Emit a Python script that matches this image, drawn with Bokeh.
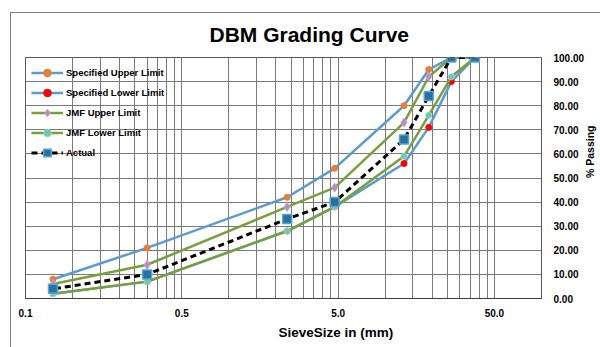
from math import pi
from bokeh.plotting import figure
from bokeh.models import (Range1d, FixedTicker, PrintfTickFormatter, Legend, LegendItem, Title)
from bokeh.embed import file_html
from bokeh.resources import INLINE

# ---- data ----
sieve_mm = [37.5, 26.5, 19.0, 13.2, 4.75, 2.36, 0.3, 0.075]
spec_upper = [100, 100, 95, 80, 54, 42, 21, 8]
spec_lower = [100, 90, 71, 56, 38, 28, 7, 2]
jmf_upper = [100, 100, 92, 73, 46, 38, 14, 6]
jmf_lower = [100, 92, 76, 59, 38, 28, 7, 2]
actual = [100, 100, 84, 66, 40, 33, 10, 4]

x_ticks = [0.05, 0.5, 5.0, 50.0]
x_tick_labels = ["0.1", "0.5", "5.0", "50.0"]
y_ticks = [0, 10, 20, 30, 40, 50, 60, 70, 80, 90, 100]

FONT = "Liberation Sans"

p = figure(frame_width=516, frame_height=241, x_axis_type="log",
           x_range=Range1d(0.05, 100), y_range=Range1d(0, 100),
           y_axis_location="right", output_backend="svg", toolbar_location=None,
           min_border_left=14, min_border_right=59, min_border_top=44, min_border_bottom=49)
p.styles = {"margin-left": "10px", "margin-top": "12px",
            "border-left": "1px solid #7f7f7f", "border-top": "1px solid #7f7f7f"}

p.title.text = "DBM Grading Curve"
p.title.align = "left"
p.title.vertical_align = "top"
p.title.offset = 184
p.title.standoff = 19
p.title.text_font = FONT
p.title.text_font_size = "21px"
p.title.text_font_style = "bold"
p.title.text_color = "#000000"

minor = [d * k for d in x_ticks for k in range(1, 11) if d * k <= 100]
p.xaxis.ticker = FixedTicker(ticks=x_ticks, minor_ticks=minor)
p.xaxis.major_label_overrides = {t: l for t, l in zip(x_ticks, x_tick_labels)}
p.yaxis.ticker = FixedTicker(ticks=y_ticks)
p.yaxis.formatter = PrintfTickFormatter(format="%.2f")

for ax in (p.xaxis, p.yaxis):
    ax.major_label_text_font = FONT
    ax.major_label_text_font_size = "10px"
    ax.major_label_text_font_style = "bold"
    ax.major_label_text_color = "#000000"
    ax.major_tick_line_color = None
    ax.minor_tick_line_color = None
    ax.major_tick_out = 0
    ax.minor_tick_out = 0
p.xaxis.axis_line_color = "#404040"
p.yaxis.axis_line_color = None
p.xaxis.major_label_standoff = 10
p.yaxis.major_label_standoff = 12

yax = p.yaxis[0]
yax.axis_label = "% Passing"
yax.axis_label_text_font = FONT
yax.axis_label_text_font_size = "10.5px"
yax.axis_label_text_font_style = "bold"
yax.axis_label_text_color = "#000000"
yax.axis_label_text_align = "center"
yax.axis_label_standoff = 3
if "axis_label_orientation" in yax.properties():
    yax.axis_label_orientation = pi / 2

xlab = Title(text="SieveSize in (mm)", align="left", offset=253, standoff=7,
             text_font=FONT, text_font_size="13.5px", text_font_style="bold",
             text_color="#000000")
p.add_layout(xlab, "below")

grid_c = "#7a7a7a"
p.xgrid.grid_line_color = grid_c
p.xgrid.minor_grid_line_color = grid_c
p.ygrid.grid_line_color = grid_c
p.outline_line_color = "#595959"

blue = "#5B9BD5"
green = "#77A03A"

l1 = p.line(sieve_mm, spec_upper, line_color=blue, line_width=2.5)
m1 = p.scatter(sieve_mm, spec_upper, marker="circle", size=6, fill_color="#ED7D31", line_color="#ED7D31")
l2 = p.line(sieve_mm, spec_lower, line_color=blue, line_width=2.5)
m2 = p.scatter(sieve_mm, spec_lower, marker="circle", size=6, fill_color="#FF0000", line_color="#FF0000")
l3 = p.line(sieve_mm, jmf_upper, line_color=green, line_width=2.5)
m3 = p.scatter(sieve_mm, jmf_upper, marker="diamond", size=9, fill_color="#B58BC9", line_color="#C9A0D8")
l4 = p.line(sieve_mm, jmf_lower, line_color=green, line_width=2.5)
m4 = p.scatter(sieve_mm, jmf_lower, marker="circle", size=6, fill_color="#6FC7B0", line_color="#8FD8C4")
l5 = p.line(sieve_mm, actual, line_color="#000000", line_width=3, line_dash="6 4")
m5 = p.scatter(sieve_mm, actual, marker="square", size=9, fill_color="#2E6DA4", line_color="#4BACC6", line_width=1.5)

legend = Legend(items=[
    LegendItem(label="Specified Upper Limit", renderers=[l1, m1]),
    LegendItem(label="Specified Lower Limit", renderers=[l2, m2]),
    LegendItem(label="JMF Upper Limit", renderers=[l3, m3]),
    LegendItem(label="JMF Lower Limit", renderers=[l4, m4]),
    LegendItem(label="Actual", renderers=[l5, m5]),
], location="top_left")
legend.margin = 6
legend.padding = 0
legend.spacing = 1
legend.glyph_width = 32
legend.glyph_height = 19
legend.label_height = 19
legend.label_standoff = 3
legend.label_text_font = FONT
legend.label_text_font_size = "9.5px"
legend.label_text_font_style = "bold"
legend.label_text_color = "#000000"
legend.background_fill_alpha = 0
legend.border_line_color = None
p.add_layout(legend, "center")

open("out.html", "w").write(file_html(p, INLINE))
